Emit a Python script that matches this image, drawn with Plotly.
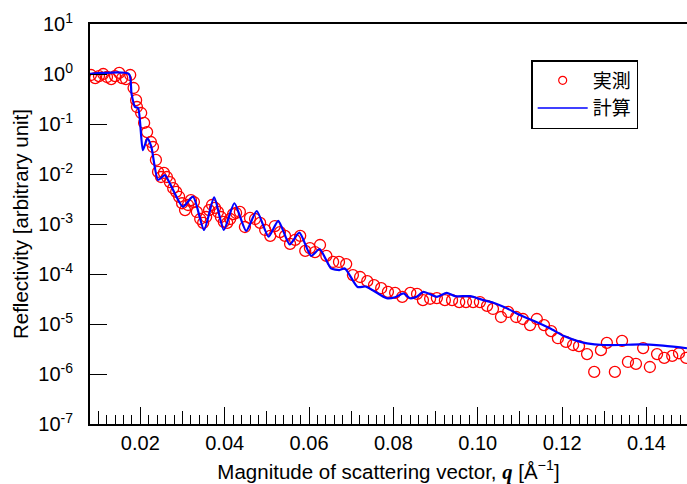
import plotly.graph_objects as go

# Measured reflectivity (実測)
q_meas = [0.0083, 0.0093, 0.0102, 0.0112, 0.0121, 0.0131, 0.0140, 0.0150, 0.0157, 0.0166, 0.0176,
          0.0184, 0.0190, 0.0192, 0.0202, 0.0209, 0.0216, 0.0225, 0.0230, 0.0237, 0.0242,
          0.0249, 0.0256, 0.0263, 0.0270, 0.0278, 0.0285, 0.0292, 0.0299, 0.0306, 0.0313,
          0.0320, 0.0327, 0.0334, 0.0342, 0.0349, 0.0356, 0.0363, 0.0370, 0.0377, 0.0384,
          0.0391, 0.0398, 0.0406, 0.0413, 0.0420, 0.0427, 0.0436, 0.0448, 0.0460, 0.0472,
          0.0484, 0.0496, 0.0508, 0.0519, 0.0531, 0.0543, 0.0555, 0.0567, 0.0579, 0.0591,
          0.0602, 0.0614, 0.0626, 0.0641, 0.0657, 0.0671, 0.0688, 0.0704, 0.0721, 0.0738,
          0.0754, 0.0771, 0.0787, 0.0804, 0.0821, 0.0840, 0.0856, 0.0870, 0.0887, 0.0903,
          0.0922, 0.0939, 0.0956, 0.0972, 0.0989, 0.1005, 0.1022, 0.1036, 0.1055, 0.1072,
          0.1091, 0.1107, 0.1124, 0.1140, 0.1157, 0.1174, 0.1190, 0.1209, 0.1226, 0.1240,
          0.1259, 0.1276, 0.1292, 0.1306, 0.1325, 0.1342, 0.1356, 0.1375, 0.1392, 0.1408,
          0.1425, 0.1442, 0.1461, 0.1477, 0.1494]
r_meas = [0.955, 0.83, 0.91, 1.0, 0.87, 0.79, 0.91, 1.05, 0.83, 0.79, 0.955,
          0.525, 0.30, 0.219, 0.166, 0.105, 0.069, 0.0437, 0.0347, 0.0191, 0.011,
          0.0087, 0.0105, 0.0087, 0.0069, 0.0052, 0.0044, 0.0035, 0.0026, 0.0019, 0.0024,
          0.0030, 0.00275, 0.00174, 0.00126, 0.00105, 0.00138, 0.0019, 0.0024, 0.0021, 0.00174,
          0.00138, 0.0011, 0.00105, 0.00126, 0.00158, 0.00166, 0.00174, 0.00087, 0.00132, 0.00126,
          0.00105, 0.00076, 0.00058, 0.00091, 0.00069, 0.00058, 0.00040, 0.00048, 0.00058, 0.00029,
          0.00033, 0.000275, 0.00038, 0.00023, 0.000174, 0.000174, 0.000158, 9.5e-5, 8.7e-5, 7.2e-5,
          6.0e-5, 5.2e-5, 4.4e-5, 4.2e-5, 3.5e-5, 4.2e-5, 4.0e-5, 3.0e-5, 3.2e-5, 3.3e-5,
          3.0e-5, 3.0e-5, 2.75e-5, 2.75e-5, 2.75e-5, 2.75e-5, 2.3e-5, 2.0e-5, 1.38e-5, 1.74e-5,
          1.38e-5, 1.26e-5, 9.5e-6, 1.26e-5, 9.5e-6, 7.2e-6, 5.2e-6, 4.4e-6, 3.8e-6, 3.6e-6,
          2.5e-6, 1.1e-6, 3.0e-6, 4.2e-6, 1.1e-6, 4.6e-6, 1.74e-6, 1.6e-6, 3.3e-6, 1.38e-6,
          2.5e-6, 2.1e-6, 2.3e-6, 2.6e-6, 2.1e-6]

# Calculated reflectivity (計算)
q_calc = [0.0080, 0.0173, 0.0179, 0.0187, 0.0195, 0.0206, 0.0217, 0.0226, 0.0242, 0.0258,
          0.0270, 0.0301, 0.0325, 0.0351, 0.0375, 0.0398, 0.0423, 0.0451, 0.0476, 0.0504,
          0.0527, 0.0554, 0.0577, 0.0605, 0.0625, 0.0652, 0.0672, 0.0685, 0.0715, 0.0735,
          0.0784, 0.0804, 0.0824, 0.0839, 0.0855, 0.0871, 0.0903, 0.0926, 0.0946, 0.0982,
          0.1013, 0.1037, 0.1069, 0.1100, 0.1132, 0.1171, 0.1203, 0.1235, 0.1259, 0.1298,
          0.1337, 0.1385, 0.1432, 0.1480, 0.1496]
r_calc = [1.0, 1.0, 0.41, 0.222, 0.206, 0.030, 0.0518, 0.0352, 0.0076, 0.0095,
          0.0065, 0.00222, 0.00352, 0.00076, 0.00342, 0.00076, 0.0026, 0.00073, 0.00182, 0.00056,
          0.00116, 0.00039, 0.00067, 0.00023, 0.000316, 0.00013, 0.00012, 0.000129, 5.5e-5, 5.6e-5,
          3.27e-5, 3.42e-5, 4.1e-5, 3.27e-5, 3.5e-5, 4.4e-5, 3.5e-5, 4.2e-5, 3.6e-5, 3.6e-5,
          3.0e-5, 2.67e-5, 2.06e-5, 1.51e-5, 1.16e-5, 8.2e-6, 5.8e-6, 4.6e-6, 4.1e-6, 3.8e-6,
          3.8e-6, 3.9e-6, 3.75e-6, 3.4e-6, 3.27e-6]

y_tickvals = [1e-7, 1e-6, 1e-5, 1e-4, 1e-3, 1e-2, 1e-1, 1e0, 1e1]
y_ticktext = ["10<sup>-7</sup>", "10<sup>-6</sup>", "10<sup>-5</sup>", "10<sup>-4</sup>",
              "10<sup>-3</sup>", "10<sup>-2</sup>", "10<sup>-1</sup>", "10<sup>0</sup>", "10<sup>1</sup>"]
x_tickvals = [0.02, 0.04, 0.06, 0.08, 0.10, 0.12, 0.14]
x_ticktext = ["0.02", "0.04", "0.06", "0.08", "0.10", "0.12", "0.14"]
mid_tickvals = [0.01, 0.03, 0.05, 0.07, 0.09, 0.11, 0.13]

legend_names = ["実測", "計算"]

FONT = "Arial, 'Liberation Sans', sans-serif"
CJK = "'Noto Sans CJK JP', sans-serif"
X_RANGE = [0.00807, 0.1496]

fig = go.Figure()

fig.add_trace(go.Scatter(
    x=q_meas, y=r_meas, mode="markers", showlegend=False,
    marker=dict(symbol="circle-open", size=11, color="#ff0000", line=dict(width=1.3, color="#ff0000")),
))
fig.add_trace(go.Scatter(
    x=q_calc, y=r_calc, mode="lines", showlegend=False,
    line=dict(color="#0000ff", width=2.2, shape="spline", smoothing=0.6),
))
# legend-only entries
fig.add_trace(go.Scatter(
    x=[None], y=[None], mode="markers", name=legend_names[0],
    marker=dict(symbol="circle-open", size=8, color="#ff0000", line=dict(width=1.2, color="#ff0000")),
))
fig.add_trace(go.Scatter(
    x=[None], y=[None], mode="lines", name=legend_names[1],
    line=dict(color="#0000ff", width=1.6),
))
# medium ticks at 0.01 intervals via overlaid axis
fig.add_trace(go.Scatter(x=[None], y=[None], xaxis="x2", showlegend=False, hoverinfo="skip"))

fig.update_layout(
    width=687, height=484,
    margin=dict(l=90, r=0, t=24, b=60),
    paper_bgcolor="white", plot_bgcolor="white",
    font=dict(family=FONT, size=21, color="black"),
    xaxis=dict(
        range=X_RANGE, showgrid=False, zeroline=False,
        showline=True, linecolor="black", linewidth=2, mirror=True,
        ticks="inside", ticklen=17, tickwidth=1.3, tickcolor="black",
        tickvals=x_tickvals, ticktext=x_ticktext,
        tickfont=dict(family=FONT, size=20),
        minor=dict(ticks="inside", ticklen=9, tickwidth=1.3, tickcolor="black", dtick=0.002, tick0=0.0, showgrid=False),
        title=dict(text="Magnitude of scattering vector, <b><i><span style='font-family:\"Times New Roman\", \"Liberation Serif\", serif'>q</span></i></b> [Å<sup>−1</sup>]",
                   font=dict(family=FONT, size=20.5), standoff=14),
    ),
    xaxis2=dict(
        overlaying="x", range=X_RANGE, side="bottom", showgrid=False, zeroline=False,
        showline=False, ticks="inside", ticklen=13, tickwidth=1.3, tickcolor="black",
        tickvals=mid_tickvals, showticklabels=False,
    ),
    yaxis=dict(
        type="log", range=[-7, 1], showgrid=False, zeroline=False,
        showline=True, linecolor="black", linewidth=2, mirror=False,
        ticks="inside", ticklen=17, tickwidth=1.3, tickcolor="black",
        tickvals=y_tickvals, ticktext=y_ticktext, ticklabelstandoff=11,
        tickfont=dict(family=FONT, size=20),
        title=dict(text="Reflectivity [arbitrary unit]", font=dict(family=FONT, size=20.5), standoff=4),
    ),
    legend=dict(
        x=0.739, y=0.91, xanchor="left", yanchor="top",
        bgcolor="white", bordercolor="black", borderwidth=1.5,
        font=dict(family=CJK, size=19, color="black"),
        itemwidth=50, tracegroupgap=0,
    ),
)

fig.write_html("out.html")
